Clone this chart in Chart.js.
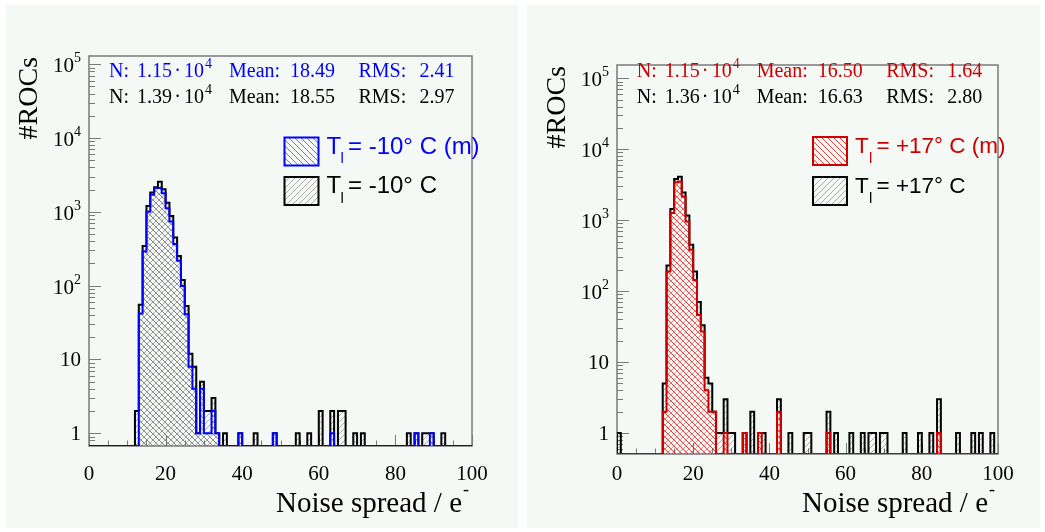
<!DOCTYPE html>
<html>
<head>
<meta charset="utf-8">
<title>Noise spread</title>
<script src="https://cdn.jsdelivr.net/npm/chart.js@4.4.1/dist/chart.umd.min.js"></script>
<style>
  html, body { margin: 0; padding: 0; background: #ffffff; }
  body { width: 1045px; height: 532px; position: relative; overflow: hidden; }
  .panel { position: absolute; background: #f5f9f6; }
  .panel canvas { display: block; }
  #coldPanel { left: 6px; top: 5px; width: 512px; height: 523px; }
  #warmPanel { left: 527px; top: 5px; width: 513px; height: 523px; }
</style>
</head>
<body>
<div class="panel" id="coldPanel"><canvas id="coldChart" width="512" height="523"></canvas></div>
<div class="panel" id="warmPanel"><canvas id="warmChart" width="513" height="523"></canvas></div>
<script>
// histogram binning: 100 bins of width 1 between 0 and 100
const X_MIN = 0;
const X_MAX = 100;
const BIN_WIDTH = 1;
const X_MAJOR_TICKS = [0, 20, 40, 60, 80, 100];
const Y_MAJOR_TICKS = [1, 10, 100, 1000, 10000, 100000];
const X_TITLE = "Noise spread / e";
const Y_TITLE = "#ROCs";

// T = -10 C, measured modules only (bin index -> entries)
const coldMeasBins = [13, 14, 15, 16, 17, 18, 19, 20, 21, 22, 23, 24, 25, 26, 27, 28, 29, 30, 31, 32, 33, 39, 48, 63, 85, 89];
const coldMeasCounts = [42, 290, 1000, 1700, 2100, 2100, 1780, 1120, 740, 367, 218, 99, 41, 8, 4, 1, 4, 1, 1, 2, 1, 1, 1, 1, 1, 1];
// T = -10 C, all modules
const coldAllBins = [12, 13, 14, 15, 16, 17, 18, 19, 20, 21, 22, 23, 24, 25, 26, 27, 28, 29, 30, 31, 32, 33, 35, 39, 43, 48, 54, 57, 60, 63, 65, 66, 69, 71, 83, 85, 87, 88, 89, 92];
const coldAllCounts = [2, 55, 345, 1200, 1820, 2150, 2560, 2020, 1330, 880, 450, 253, 119, 53, 12, 8, 1, 5, 2, 2, 3, 1, 1, 1, 1, 1, 1, 1, 2, 2, 2, 2, 1, 1, 1, 1, 1, 1, 1, 1];
const coldStatsMeas = ["1.15", "4", "18.49", "2.41"];
const coldStatsAll = ["1.39", "4", "18.55", "2.97"];

// T = +17 C, measured modules only
const warmMeasBins = [12, 13, 14, 15, 16, 17, 18, 19, 20, 21, 22, 23, 24, 25, 28, 33, 37, 42, 55, 84];
const warmMeasCounts = [2, 189, 1260, 3430, 3500, 2150, 960, 382, 144, 46, 27, 4, 2, 2, 1, 1, 1, 2, 1, 1];
// T = +17 C, all modules
const warmAllBins = [0, 12, 13, 14, 15, 16, 17, 18, 19, 20, 21, 22, 23, 24, 25, 26, 27, 28, 29, 30, 33, 35, 37, 38, 42, 45, 49, 50, 55, 57, 61, 64, 66, 67, 69, 70, 75, 79, 82, 84, 89, 93, 95, 98];
const warmAllCounts = [1, 5, 229, 1440, 3820, 4110, 2450, 1160, 449, 189, 70, 33, 6, 5, 2, 1, 1, 3, 1, 1, 1, 2, 1, 1, 3, 1, 1, 1, 2, 1, 1, 1, 1, 1, 1, 1, 1, 1, 1, 3, 1, 1, 1, 1];
const warmStatsMeas = ["1.15", "4", "16.50", "1.64"];
const warmStatsAll = ["1.36", "4", "16.63", "2.80"];

const BLUE = "#0000ff";
const RED = "#cc0000";
const BLACK = "#000000";
const FRAME = "#7a7a7a";
const SERIF = "'Liberation Serif', 'Times New Roman', serif";
const SANS = "'Liberation Sans', Arial, sans-serif";

// one-pixel diagonal hatch tile, dir > 0 gives "/", dir < 0 gives "\"
function hatch(color, dir) {
  const s = 6;
  const c = document.createElement("canvas");
  c.width = s;
  c.height = s;
  const g = c.getContext("2d");
  g.fillStyle = color;
  for (let i = 0; i < s; i++) {
    g.fillRect(i, dir > 0 ? s - 1 - i : i, 1, 1);
  }
  return g.createPattern(c, "repeat");
}

// bin contents -> points of a step outline (empty bins sit on the axis floor)
function histSteps(bins, counts, floor) {
  const h = new Array(Math.round((X_MAX - X_MIN) / BIN_WIDTH)).fill(0);
  bins.forEach((b, i) => { h[b] = counts[i]; });
  const pts = [{ x: X_MIN, y: floor }];
  h.forEach((c, k) => pts.push({ x: X_MIN + k * BIN_WIDTH, y: c > 0 ? c : floor }));
  pts.push({ x: X_MAX, y: floor });
  return pts;
}

// draws a run of text pieces left to right, returns end x
function drawRich(ctx, x, y, parts, color) {
  ctx.fillStyle = color;
  ctx.textAlign = "left";
  ctx.textBaseline = "alphabetic";
  parts.forEach((p) => {
    ctx.font = p.font;
    ctx.fillText(p.text, x + (p.dx || 0), y + (p.dy || 0));
    x += ctx.measureText(p.text).width + (p.dx || 0);
  });
  return x;
}

function richWidth(ctx, parts) {
  let w = 0;
  parts.forEach((p) => { ctx.font = p.font; w += ctx.measureText(p.text).width + (p.dx || 0); });
  return w;
}

// frame, ticks and all texts in ROOT style
const rootStyle = {
  id: "rootStyle",
  beforeDatasetsDraw(chart, args, opts) {
    const { ctx, chartArea: a, scales } = chart;
    const xs = scales.x, ys = scales.y;
    ctx.save();
    ctx.strokeStyle = FRAME;
    ctx.lineWidth = 1.5;
    ctx.strokeRect(a.left, a.top, a.right - a.left, a.bottom - a.top);
    ctx.lineWidth = 1;
    ctx.beginPath();
    for (let v = X_MIN; v <= X_MAX; v += 5) {
      const px = Math.round(xs.getPixelForValue(v)) + 0.5;
      const len = v % 20 === 0 ? 11 : 5.5;
      ctx.moveTo(px, a.bottom);
      ctx.lineTo(px, a.bottom - len);
    }
    for (let d = 0.1; d <= 1e5; d *= 10) {
      for (let m = 1; m <= 9; m++) {
        const v = d * m;
        if (v < ys.min || v > ys.max) continue;
        const py = Math.round(ys.getPixelForValue(v)) + 0.5;
        const len = m === 1 ? 12 : 6;
        ctx.moveTo(a.left, py);
        ctx.lineTo(a.left + len, py);
      }
    }
    ctx.stroke();
    ctx.restore();
  },
  afterDraw(chart, args, opts) {
    const { ctx, chartArea: a, scales } = chart;
    const xs = scales.x, ys = scales.y;
    ctx.save();

    // x tick labels
    ctx.fillStyle = BLACK;
    ctx.font = "21px " + SERIF;
    ctx.textAlign = "center";
    X_MAJOR_TICKS.forEach((v) => {
      ctx.fillText(String(v), xs.getPixelForValue(v), opts.xLabelY);
    });

    // y tick labels, 10^n with a superscript
    Y_MAJOR_TICKS.forEach((v) => {
      const py = ys.getPixelForValue(v);
      const n = Math.round(Math.log10(v));
      let parts;
      if (n <= 1) {
        parts = [{ text: String(v), font: "21px " + SERIF, dy: 6.5 }];
      } else {
        parts = [
          { text: "10", font: "21px " + SERIF, dy: 8 },
          { text: String(n), font: "14px " + SERIF, dy: -2 }
        ];
      }
      drawRich(ctx, a.left - 8 - richWidth(ctx, parts), py, parts, BLACK);
    });

    // axis titles
    const xt = [
      { text: X_TITLE, font: "29px " + SERIF },
      { text: "-", font: "18px " + SERIF, dy: -17, dx: 1 }
    ];
    drawRich(ctx, a.right - 3 - richWidth(ctx, xt), opts.xTitleY, xt, BLACK);
    ctx.save();
    ctx.translate(opts.yTitleX, a.top + 1);
    ctx.rotate(-Math.PI / 2);
    ctx.font = "28px " + SERIF;
    ctx.textAlign = "right";
    ctx.fillStyle = BLACK;
    ctx.fillText(Y_TITLE, 0, 0);
    ctx.restore();

    // statistics lines, pieces placed at fixed offsets from the line start
    const f = "20px " + SERIF;
    const sx = opts.statsX;
    opts.stats.forEach((s, i) => {
      const y = opts.statsY[i];
      const c = s.color;
      drawRich(ctx, sx, y, [{ text: "N:", font: f }], c);
      drawRich(ctx, sx + 28, y, [{ text: s.values[0], font: f }], c);
      ctx.textAlign = "center";
      ctx.fillText("\u00b7", sx + 68.5, y);
      drawRich(ctx, sx + 75, y, [
        { text: "10", font: f },
        { text: s.values[1], font: "14px " + SERIF, dy: -9, dx: 1 }
      ], c);
      drawRich(ctx, sx + 120, y, [{ text: "Mean:", font: f }], c);
      drawRich(ctx, sx + 181, y, [{ text: s.values[2], font: f }], c);
      drawRich(ctx, sx + 249.5, y, [{ text: "RMS:", font: f }], c);
      drawRich(ctx, sx + 310.5, y, [{ text: s.values[3], font: f }], c);
    });

    // legend: hatched box plus "T_l ..." label
    const lf = opts.legendFont;
    chart.data.datasets.forEach((ds, i) => {
      const bx = opts.legendX, by = opts.legendY[i];
      ctx.fillStyle = ds.backgroundColor;
      ctx.fillRect(bx, by, 34, 28);
      ctx.strokeStyle = ds.borderColor;
      ctx.lineWidth = 2;
      ctx.strokeRect(bx, by, 34, 28);
      const tx = bx + 42, ty = by + 16;
      drawRich(ctx, tx, ty, [{ text: "T", font: lf + "px " + SANS }], ds.borderColor);
      drawRich(ctx, tx + 14, ty + 9.5, [{ text: "l", font: "15px " + SANS }], ds.borderColor);
      drawRich(ctx, tx + 21.5, ty, [{ text: ds.label, font: lf + "px " + SANS }], ds.borderColor);
    });
    ctx.restore();
  }
};

function makePanel(cfg) {
  const el = document.getElementById(cfg.canvasId);
  const [yMin, yMax] = cfg.yRange;
  new Chart(el, {
    type: "line",
    data: {
      datasets: [
        {
          label: cfg.labels[0],
          data: histSteps(cfg.meas[0], cfg.meas[1], yMin),
          stepped: "before",
          borderColor: cfg.color,
          borderWidth: 2,
          borderJoinStyle: "miter",
          backgroundColor: hatch(cfg.hatchColor, -1),
          fill: "start",
          pointRadius: 0,
          tension: 0
        },
        {
          label: cfg.labels[1],
          data: histSteps(cfg.all[0], cfg.all[1], yMin),
          stepped: "before",
          borderColor: BLACK,
          borderWidth: 2,
          borderJoinStyle: "miter",
          backgroundColor: hatch("rgba(0,0,0,0.3)", 1),
          fill: "start",
          pointRadius: 0,
          tension: 0
        }
      ]
    },
    options: {
      responsive: false,
      animation: false,
      events: [],
      layout: { padding: cfg.padding },
      scales: {
        x: { type: "linear", min: X_MIN, max: X_MAX, display: false },
        y: { type: "logarithmic", min: yMin, max: yMax, display: false }
      },
      plugins: {
        legend: { display: false },
        tooltip: { enabled: false },
        rootStyle: cfg.style
      }
    },
    plugins: [rootStyle]
  });
}

makePanel({
  canvasId: "coldChart",
  color: BLUE,
  hatchColor: "#7070ff",
  yRange: [0.673, 1.29e5],
  padding: { left: 83, top: 51, right: 46, bottom: 82 },
  meas: [coldMeasBins, coldMeasCounts],
  all: [coldAllBins, coldAllCounts],
  labels: ["= -10\u00b0 C (m)", "= -10\u00b0 C"],
  style: {
    xLabelY: 474.5,
    xTitleY: 507,
    yTitleX: 31,
    statsX: 103,
    statsY: [72, 98],
    stats: [
      { color: BLUE, values: coldStatsMeas },
      { color: BLACK, values: coldStatsAll }
    ],
    legendX: 278.5,
    legendY: [132.5, 172],
    legendFont: 24
  }
});

makePanel({
  canvasId: "warmChart",
  color: RED,
  hatchColor: "rgba(220,0,0,0.75)",
  yRange: [0.506, 1.54e5],
  padding: { left: 90, top: 60, right: 42, bottom: 74 },
  meas: [warmMeasBins, warmMeasCounts],
  all: [warmAllBins, warmAllCounts],
  labels: ["= +17\u00b0 C (m)", "= +17\u00b0 C"],
  style: {
    xLabelY: 474.5,
    xTitleY: 507,
    yTitleX: 38,
    statsX: 109.7,
    statsY: [72, 98],
    stats: [
      { color: RED, values: warmStatsMeas },
      { color: BLACK, values: warmStatsAll }
    ],
    legendX: 286,
    legendY: [132, 172],
    legendFont: 22.5
  }
});
</script>
</body>
</html>
